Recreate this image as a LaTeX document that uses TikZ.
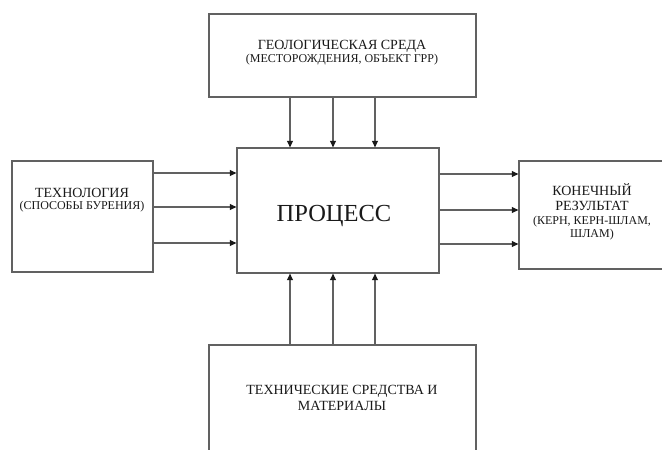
\documentclass[tikz,border=0pt]{standalone}
\usepackage{fontspec}
\setmainfont{Liberation Serif}
\usetikzlibrary{arrows.meta}
\tikzset{
  box/.style={draw=black!62, line width=1.3pt, inner sep=0pt, fill=white},
  arr/.style={draw=black!62, line width=1.2pt, -{Triangle[length=6.5pt,width=6pt,color=black!90]}},
  lbl/.style={inner sep=0pt, align=center, text=black!90},
  big/.style={font=\fontsize{14}{16}\selectfont},
  small/.style={font=\fontsize{12}{13}\selectfont},
}
\begin{document}
\begin{tikzpicture}[x=1pt,y=-1pt]
\clip (0,0) rectangle (662,450);
\fill[white] (0,0) rectangle (662,450);
% boxes
\node[box, minimum width=267pt, minimum height=83pt] (geo) at (342.5,55.5) {};
\node[box, minimum width=202pt, minimum height=125pt] (proc) at (338,210.5) {};
\node[box, minimum width=141pt, minimum height=111pt] (tech) at (82.5,216.5) {};
\node[box, minimum width=149pt, minimum height=108pt] (res) at (593.5,215) {};
\node[box, minimum width=267pt, minimum height=120pt] (mat) at (342.5,405) {};
% texts
\node[lbl, big] (geoT1) at (342,46) {ГЕОЛОГИЧЕСКАЯ СРЕДА};
\node[lbl, small] (geoT2) at (342,60) {(МЕСТОРОЖДЕНИЯ, ОБЪЕКТ ГРР)};
\node[lbl, font=\fontsize{24.5}{28}\selectfont] (procT) at (334,216) {ПРОЦЕСС};
\node[lbl, big] (techT1) at (82,193) {ТЕХНОЛОГИЯ};
\node[lbl, small] (techT2) at (82,207) {(СПОСОБЫ БУРЕНИЯ)};
\node[lbl, big] (resT1) at (592,190) {КОНЕЧНЫЙ};
\node[lbl, big] (resT2) at (592,206) {РЕЗУЛЬТАТ};
\node[lbl, small] (resT3) at (592,222) {(КЕРН, КЕРН-ШЛАМ,};
\node[lbl, small] (resT4) at (592,235) {ШЛАМ)};
\node[lbl, big] (matT1) at (342,391) {ТЕХНИЧЕСКИЕ СРЕДСТВА И};
\node[lbl, big] (matT2) at (342,406) {МАТЕРИАЛЫ};
% arrows
\foreach \xx in {290,333,375} {
  \draw[arr] (\xx,0 |- geo.south) -- (\xx,0 |- proc.north);
  \draw[arr] (\xx,0 |- mat.north) -- (\xx,0 |- proc.south);
}
\foreach \yy in {173,207,243} {
  \draw[arr] (tech.east |- 0,\yy) -- (proc.west |- 0,\yy);
}
\foreach \yy in {174,210,244} {
  \draw[arr] (proc.east |- 0,\yy) -- (res.west |- 0,\yy);
}
\end{tikzpicture}
\end{document}
